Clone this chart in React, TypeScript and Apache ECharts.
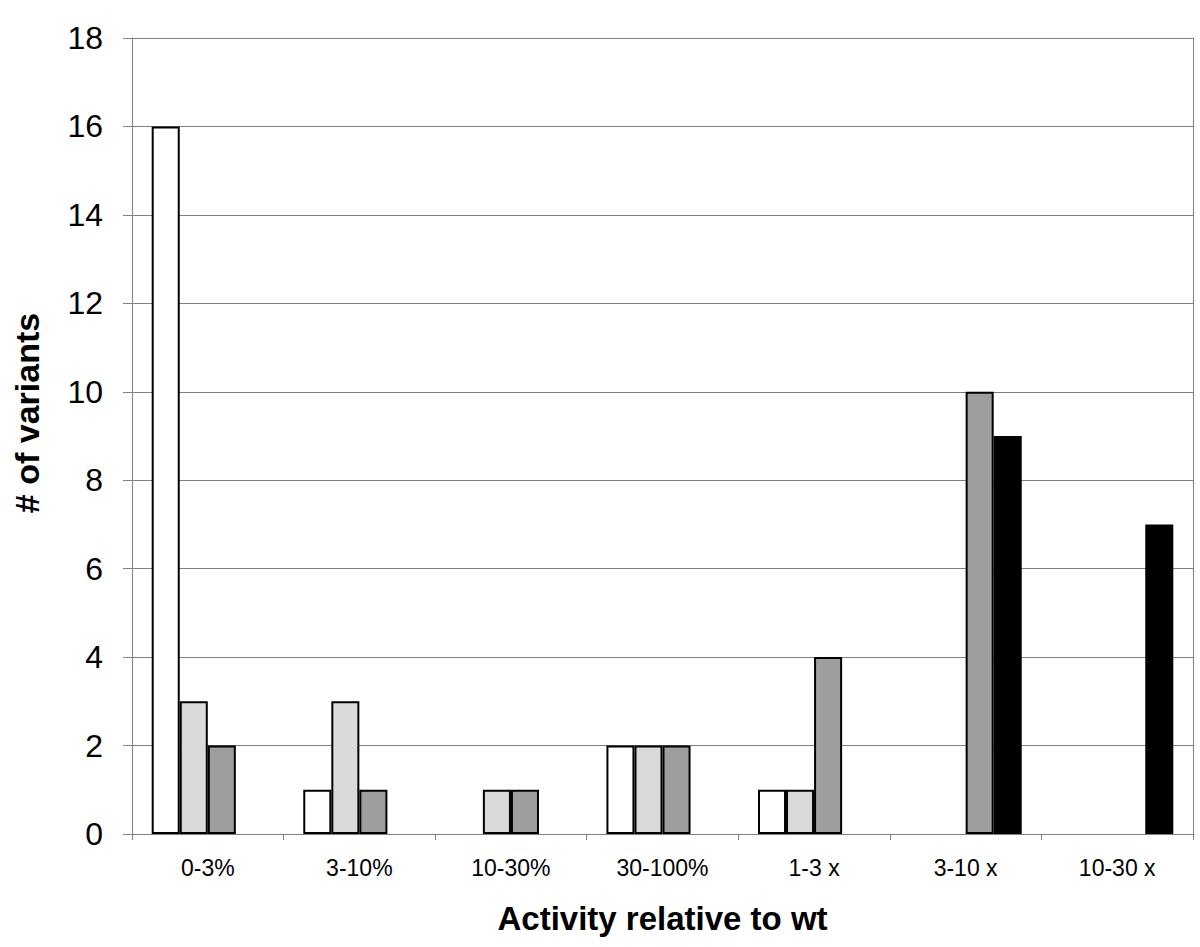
import React, { useEffect, useRef } from "react";
import * as echarts from "echarts";

const categories = ["0-3%", "3-10%", "10-30%", "30-100%", "1-3 x", "3-10 x", "10-30 x"];
const seriesA = [16, 1, 0, 2, 1, 0, 0];
const seriesB = [3, 3, 1, 2, 1, 0, 0];
const seriesC = [2, 1, 1, 2, 4, 10, 0];
const seriesD = [0, 0, 0, 0, 0, 9, 7];
const yTicks = { min: 0, max: 18, interval: 2 };

const FONT = 'Arial, "Liberation Sans", sans-serif';

export default function App() {
  const ref = useRef<HTMLDivElement>(null);
  useEffect(() => {
    document.body.style.margin = "0";
    const chart = echarts.init(ref.current!, undefined, { renderer: "svg" });
    const toBars = (arr: number[]) => arr.map((v) => (v === 0 ? "-" : v));
    const mk = (name: string, data: number[], color: string) => ({
      name,
      type: "bar",
      data: toBars(data),
      barGap: "0%",
      barCategoryGap: "26%",
      itemStyle: { color, borderColor: "#000", borderWidth: 2 },
    });
    chart.setOption({
      animation: false,
      backgroundColor: "#fff",
      textStyle: { fontFamily: FONT },
      grid: { left: 132, right: 7, top: 38, bottom: 113, containLabel: false },
      graphic: [
        {
          type: "text",
          x: 27,
          y: 413,
          rotation: Math.PI / 2,
          style: {
            text: "# of variants",
            fontSize: 34,
            fontWeight: "bold",
            fontFamily: FONT,
            fill: "#000",
            align: "center",
            verticalAlign: "middle",
          },
        },
      ],
      xAxis: {
        type: "category",
        data: categories,
        name: "Activity relative to wt",
        nameLocation: "middle",
        nameGap: 68,
        nameTextStyle: { fontSize: 33, fontWeight: "bold", color: "#000", fontFamily: FONT },
        axisLine: { lineStyle: { color: "#808080", width: 1 } },
        axisTick: { show: true, length: 6, lineStyle: { color: "#808080" } },
        axisLabel: { fontSize: 23, color: "#000", margin: 22, fontFamily: FONT },
      },
      yAxis: [
        {
          type: "value",
          min: yTicks.min,
          max: yTicks.max,
          interval: yTicks.interval,
          axisLine: { show: true, lineStyle: { color: "#808080", width: 1 } },
          axisTick: { show: true, length: 9, lineStyle: { color: "#808080" } },
          axisLabel: { fontSize: 32, color: "#000", margin: 29, fontFamily: FONT },
          splitLine: { show: true, lineStyle: { color: "#808080", width: 1 } },
        },
        {
          type: "value",
          min: yTicks.min,
          max: yTicks.max,
          interval: yTicks.interval,
          position: "right",
          axisLine: { show: true, lineStyle: { color: "#808080", width: 1 } },
          axisTick: { show: false },
          axisLabel: { show: false },
          splitLine: { show: false },
        },
      ],
      series: [
        mk("A", seriesA, "#ffffff"),
        mk("B", seriesB, "#dadada"),
        mk("C", seriesC, "#9e9e9e"),
        mk("D", seriesD, "#000000"),
      ],
    });
    return () => chart.dispose();
  }, []);
  return <div ref={ref} style={{ width: 1200, height: 947 }} />;
}
